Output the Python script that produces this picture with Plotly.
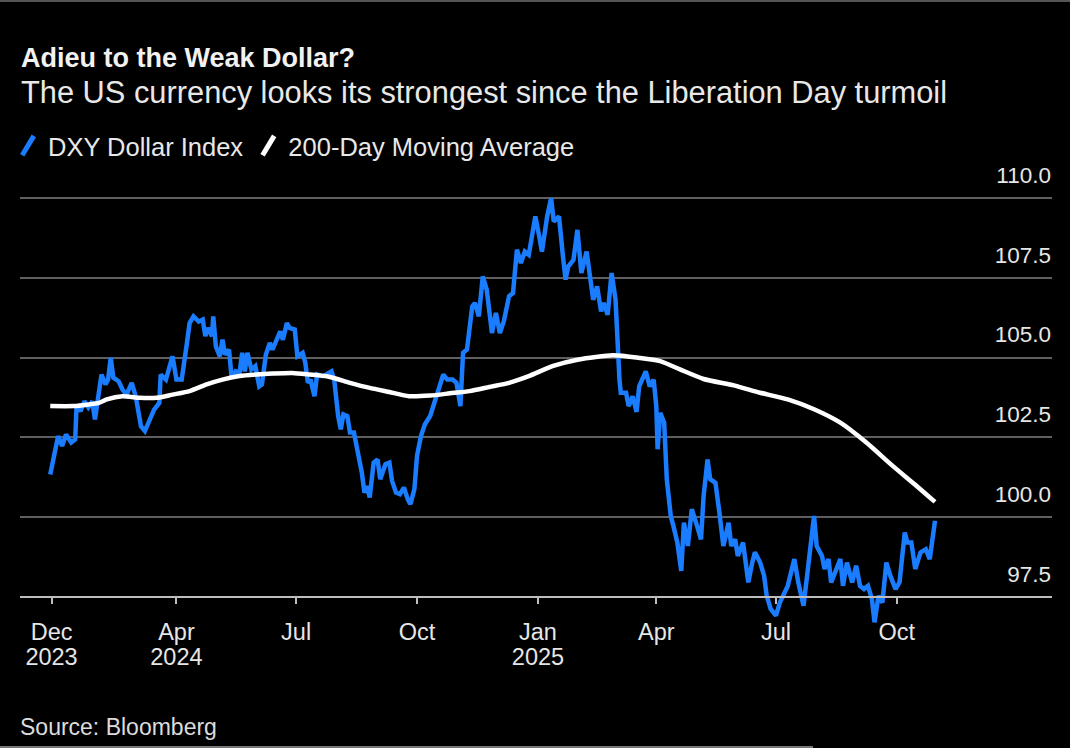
import plotly.graph_objects as go

dxy_dates = ["2023-12-27","2024-01-02","2024-01-03","2024-01-05","2024-01-08","2024-01-12","2024-01-15","2024-01-16","2024-01-19","2024-01-22","2024-01-25","2024-01-28","2024-01-30","2024-02-01","2024-02-04","2024-02-07","2024-02-09","2024-02-11","2024-02-13","2024-02-17","2024-02-20","2024-02-23","2024-02-27","2024-03-01","2024-03-05","2024-03-08","2024-03-11","2024-03-15","2024-03-19","2024-03-20","2024-03-24","2024-03-27","2024-03-29","2024-04-01","2024-04-05","2024-04-09","2024-04-11","2024-04-14","2024-04-18","2024-04-21","2024-04-23","2024-04-25","2024-04-28","2024-04-29","2024-05-01","2024-05-04","2024-05-06","2024-05-08","2024-05-11","2024-05-13","2024-05-16","2024-05-19","2024-05-21","2024-05-23","2024-05-25","2024-05-28","2024-05-31","2024-06-03","2024-06-05","2024-06-08","2024-06-11","2024-06-13","2024-06-16","2024-06-19","2024-06-21","2024-06-24","2024-06-26","2024-06-30","2024-07-02","2024-07-06","2024-07-08","2024-07-10","2024-07-12","2024-07-15","2024-07-17","2024-07-21","2024-07-24","2024-07-28","2024-07-30","2024-08-02","2024-08-04","2024-08-06","2024-08-09","2024-08-11","2024-08-14","2024-08-16","2024-08-20","2024-08-22","2024-08-24","2024-08-26","2024-08-29","2024-09-01","2024-09-03","2024-09-07","2024-09-10","2024-09-12","2024-09-15","2024-09-18","2024-09-21","2024-09-24","2024-09-26","2024-09-29","2024-10-01","2024-10-04","2024-10-07","2024-10-11","2024-10-14","2024-10-18","2024-10-21","2024-10-24","2024-10-28","2024-10-31","2024-11-03","2024-11-05","2024-11-08","2024-11-12","2024-11-14","2024-11-17","2024-11-20","2024-11-23","2024-11-24","2024-11-27","2024-11-30","2024-12-03","2024-12-06","2024-12-10","2024-12-13","2024-12-16","2024-12-19","2024-12-22","2024-12-25","2024-12-30","2025-01-02","2025-01-04","2025-01-08","2025-01-11","2025-01-13","2025-01-17","2025-01-20","2025-01-22","2025-01-24","2025-01-28","2025-01-31","2025-02-03","2025-02-07","2025-02-10","2025-02-12","2025-02-15","2025-02-18","2025-02-20","2025-02-23","2025-02-26","2025-03-01","2025-03-04","2025-03-05","2025-03-09","2025-03-11","2025-03-14","2025-03-17","2025-03-19","2025-03-24","2025-03-27","2025-03-30","2025-04-01","2025-04-02","2025-04-04","2025-04-07","2025-04-09","2025-04-12","2025-04-14","2025-04-17","2025-04-20","2025-04-22","2025-04-25","2025-04-28","2025-05-02","2025-05-05","2025-05-07","2025-05-10","2025-05-12","2025-05-16","2025-05-19","2025-05-22","2025-05-26","2025-05-28","2025-05-31","2025-06-02","2025-06-06","2025-06-10","2025-06-13","2025-06-15","2025-06-19","2025-06-22","2025-06-24","2025-06-27","2025-07-01","2025-07-04","2025-07-10","2025-07-15","2025-07-18","2025-07-22","2025-07-25","2025-07-30","2025-08-01","2025-08-05","2025-08-07","2025-08-10","2025-08-12","2025-08-16","2025-08-19","2025-08-21","2025-08-24","2025-08-28","2025-08-31","2025-09-03","2025-09-06","2025-09-09","2025-09-12","2025-09-14","2025-09-17","2025-09-20","2025-09-23","2025-09-26","2025-09-30","2025-10-03","2025-10-07","2025-10-09","2025-10-12","2025-10-15","2025-10-19","2025-10-23","2025-10-26","2025-10-30"]
dxy_values = [101.34,102.54,102.44,102.23,102.59,102.34,102.44,103.48,103.32,103.63,103.44,103.63,103.06,103.69,104.47,104.16,104.31,104.99,104.37,104.26,104.00,103.84,104.21,103.79,102.85,102.70,102.96,103.37,103.58,104.47,104.31,104.78,105.04,104.31,104.31,105.46,106.08,106.29,106.13,106.19,105.67,105.93,105.67,106.29,105.35,105.04,105.56,105.09,105.25,104.37,104.57,104.52,105.15,104.57,105.15,104.63,104.73,104.10,104.16,105.09,105.46,105.25,105.56,105.82,105.56,106.08,105.93,105.88,105.04,105.15,104.84,104.21,104.31,103.79,104.47,104.42,104.47,104.57,104.31,103.17,102.75,103.22,103.17,102.65,102.65,102.23,101.40,100.77,100.98,100.62,101.71,101.81,101.19,101.66,101.71,101.14,100.77,100.72,100.93,100.56,100.41,100.88,101.92,102.54,102.91,103.17,103.53,104.00,104.47,104.31,104.31,104.21,103.48,105.15,105.25,106.60,106.71,106.29,107.54,107.13,106.81,105.77,106.40,105.77,106.13,106.92,107.02,108.38,107.96,108.32,108.22,109.42,108.79,108.32,109.42,109.99,109.26,109.42,108.17,107.44,107.85,108.06,109.00,107.65,108.32,107.44,106.81,107.23,106.45,106.71,106.34,107.65,106.81,104.31,103.90,103.90,103.48,103.79,103.30,104.10,104.57,104.10,104.31,103.48,102.13,103.27,102.96,101.19,100.04,99.73,99.21,98.32,99.83,99.10,100.25,99.73,99.31,100.67,101.81,101.19,101.08,100.15,99.10,99.83,99.10,99.31,98.79,99.21,97.96,98.58,98.90,98.58,98.17,97.54,97.13,96.92,97.33,97.85,98.69,97.96,97.23,98.27,100.04,99.10,98.79,98.38,98.69,97.96,98.38,98.69,97.85,98.58,97.96,98.48,97.85,97.75,97.85,97.44,96.71,97.54,97.33,98.58,98.17,97.75,97.96,99.52,99.21,99.21,98.38,98.90,99.00,98.69,99.89]

ma_dates = ["2023-12-27","2024-01-14","2024-02-02","2024-02-08","2024-02-20","2024-03-04","2024-03-17","2024-03-29","2024-04-11","2024-04-24","2024-05-06","2024-05-19","2024-06-01","2024-06-13","2024-06-28","2024-07-11","2024-07-26","2024-08-11","2024-08-26","2024-09-10","2024-09-25","2024-10-11","2024-10-26","2024-11-10","2024-11-25","2024-12-10","2024-12-25","2025-01-12","2025-02-01","2025-02-27","2025-03-19","2025-04-04","2025-04-19","2025-05-07","2025-05-30","2025-06-19","2025-07-10","2025-07-30","2025-08-19","2025-09-08","2025-09-28","2025-10-16","2025-10-30"]
ma_values = [103.48,103.48,103.58,103.69,103.79,103.74,103.74,103.84,103.95,104.16,104.31,104.42,104.47,104.50,104.52,104.47,104.40,104.21,104.05,103.92,103.79,103.81,103.88,103.95,104.08,104.21,104.42,104.73,104.94,105.07,104.99,104.89,104.63,104.33,104.13,103.90,103.69,103.38,102.96,102.33,101.60,100.98,100.48]

month_ticks = ["2023-12-28","2024-04-01","2024-07-01","2024-10-01","2025-01-01","2025-04-01","2025-07-01","2025-10-01"]
month_labels = ["Dec","Apr","Jul","Oct","Jan","Apr","Jul","Oct"]
year_ticks = ["2023-12-28","2024-04-01","2025-01-01"]
year_labels = ["2023","2024","2025"]
y_ticks = [97.5,100.0,102.5,105.0,107.5,110.0]
y_labels = ["97.5","100.0","102.5","105.0","107.5","110.0"]

BLUE = "#1a7cff"
FONT = "Liberation Sans, Arial, Helvetica, sans-serif"
W, H = 1070, 748
ML, MR, MT, MB = 20, 18, 160, 116
PH = H - MT - MB
PW = W - ML - MR

def py(p):
    return (H - MB - p) / PH

def px(p):
    return (p - ML) / PW

fig = go.Figure()
fig.add_trace(go.Scatter(x=dxy_dates, y=dxy_values, mode="lines",
                         line=dict(color=BLUE, width=4.5), showlegend=False, hoverinfo="skip"))
fig.add_trace(go.Scatter(x=ma_dates, y=ma_values, mode="lines",
                         line=dict(color="#ffffff", width=4.5, shape="spline", smoothing=0.6),
                         showlegend=False, hoverinfo="skip"))
# legend entries (slash icons)
fig.add_trace(go.Scatter(x=[None], y=[None], mode="markers", name="DXY Dollar Index",
                         marker=dict(symbol="line-ne", size=16, angle=-14,
                                     line=dict(color=BLUE, width=5))))
fig.add_trace(go.Scatter(x=[None], y=[None], mode="markers", name="200-Day Moving Average",
                         marker=dict(symbol="line-ne", size=16, angle=-14,
                                     line=dict(color="#ffffff", width=5))))
# year labels axis
fig.add_trace(go.Scatter(x=[None], y=[None], xaxis="x2", yaxis="y", showlegend=False))

fig.update_layout(
    width=W, height=H,
    margin=dict(l=ML, r=MR, t=MT, b=MB, autoexpand=False),
    paper_bgcolor="#000000", plot_bgcolor="#000000",
    font=dict(family=FONT, color="#e8e8e8"),
    showlegend=True,
    legend=dict(orientation="h", x=px(8), xanchor="left", y=py(146), yanchor="middle",
                font=dict(size=25.5, color="#e8e8e8"), bgcolor="rgba(0,0,0,0)",
                itemsizing="trace", traceorder="normal"),
    xaxis=dict(type="date", range=["2023-12-04", "2026-01-27"], anchor="free", position=py(597),
               automargin=False,
               showline=True, linecolor="#bdbdbd", linewidth=2,
               ticks="outside", ticklen=6, tickwidth=1.5, tickcolor="#bdbdbd",
               tickmode="array", tickvals=month_ticks, ticktext=month_labels,
               ticklabelstandoff=8,
               tickfont=dict(size=23.5, color="#e6e6e6"),
               showgrid=False, zeroline=False, fixedrange=True),
    xaxis2=dict(type="date", matches="x", overlaying="x", anchor="free", position=py(620),
                automargin=False, ticklabelstandoff=20,
                showline=False, ticks="", tickmode="array", tickvals=year_ticks, ticktext=year_labels,
                tickfont=dict(size=23.5, color="#e6e6e6"), showgrid=False, zeroline=False),
    yaxis=dict(range=[96.40625, 111.1875], side="right", tickmode="array", automargin=False,
               tickvals=y_ticks, ticktext=y_labels, ticklabelposition="inside",
               ticklabelshift=-23, ticklabelstandoff=-2, ticks="",
               tickfont=dict(size=22.5, color="#e6e6e6"),
               showgrid=True, gridcolor="#5f5f5f", gridwidth=1.5,
               zeroline=False, showline=False, fixedrange=True),
    annotations=[
        dict(text="<b>Adieu to the Weak Dollar?</b>", xref="paper", yref="paper",
             x=px(19), y=py(58.5), xanchor="left", yanchor="middle", showarrow=False,
             font=dict(size=27, color="#f2f2f2", family=FONT)),
        dict(text="The US currency looks its strongest since the Liberation Day turmoil",
             xref="paper", yref="paper", x=px(19), y=py(92.5), xanchor="left", yanchor="middle",
             showarrow=False, font=dict(size=30.8, color="#e8e8e8", family=FONT)),
        dict(text="Source: Bloomberg", xref="paper", yref="paper", x=px(18), y=py(727),
             xanchor="left", yanchor="middle", showarrow=False,
             font=dict(size=23, color="#dcdcdc", family=FONT)),
    ],
    shapes=[
        dict(type="line", xref="paper", yref="paper", x0=px(0), x1=px(W), y0=py(1), y1=py(1),
             line=dict(color="#555555", width=2)),
        dict(type="line", xref="paper", yref="paper", x0=px(0), x1=px(813), y0=py(747), y1=py(747),
             line=dict(color="#777777", width=2)),
    ],
)

fig.write_html("out.html")
